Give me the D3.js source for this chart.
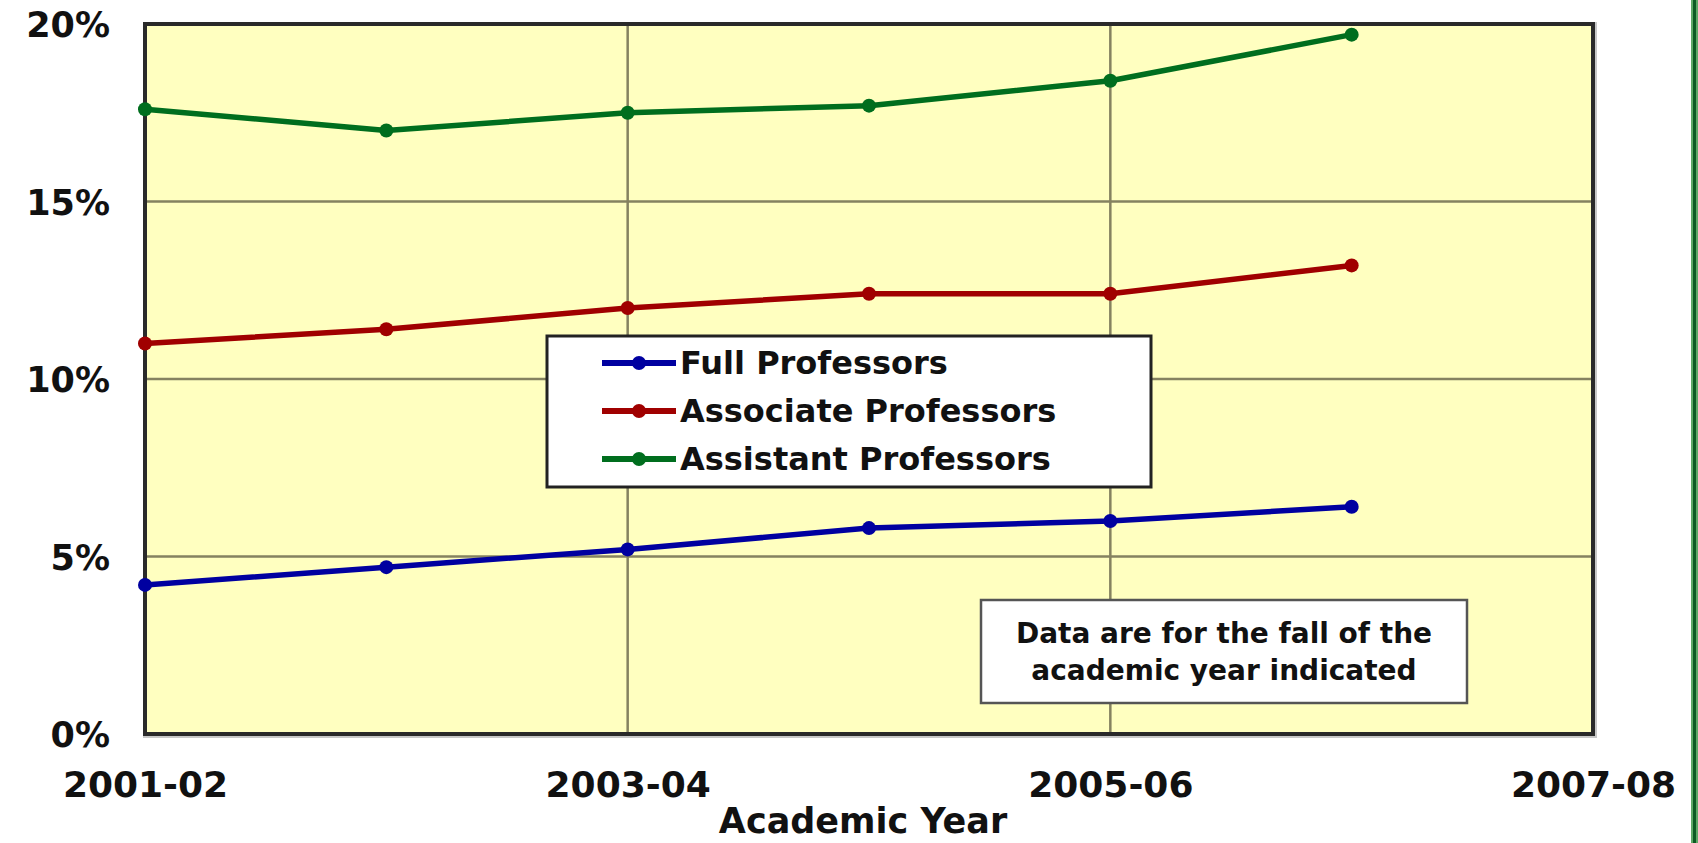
<!DOCTYPE html>
<html>
<head>
<meta charset="utf-8">
<script src="https://cdn.jsdelivr.net/npm/d3@7"></script>
<style>
  body { margin: 0; background: #fff; }
  text { font-family: "DejaVu Sans", Verdana, sans-serif; font-weight: bold; fill: #111; }
</style>
</head>
<body>
<div id="chart"></div>
<script>
// academic years on the x axis (ticks every other year)
var years = ["2001-02", "2002-03", "2003-04", "2004-05", "2005-06", "2006-07", "2007-08"];
var tickYears = ["2001-02", "2003-04", "2005-06", "2007-08"];
var yTicks = [0, 5, 10, 15, 20];

// percent values, fall of each year
var dataYears = ["2001-02", "2002-03", "2003-04", "2004-05", "2005-06", "2006-07"];
var fullProf = [4.2, 4.7, 5.2, 5.8, 6.0, 6.4];
var assocProf = [11.0, 11.4, 12.0, 12.4, 12.4, 13.2];
var asstProf = [17.6, 17.0, 17.5, 17.7, 18.4, 19.7];

var seriesNames = ["Full Professors", "Associate Professors", "Assistant Professors"];
var seriesColors = ["#0000a0", "#a00000", "#006e1e"];

var W = 1698, H = 843,
    margin = {top: 24, right: 105, bottom: 109, left: 145},
    width = W - margin.left - margin.right,
    height = H - margin.top - margin.bottom;

var svg = d3.select("#chart").append("svg")
    .attr("width", W)
    .attr("height", H);

// green slide edge on the right
svg.append("rect").attr("x", 1691).attr("y", 0).attr("width", 7).attr("height", H).attr("fill", "#5da866");
svg.append("rect").attr("x", 1693).attr("y", 0).attr("width", 3).attr("height", H).attr("fill", "#0c5a22");

var g = svg.append("g").attr("transform", "translate(" + margin.left + "," + margin.top + ")");

var x = d3.scalePoint().domain(years).range([0, width]),
    y = d3.scaleLinear().domain([0, 20]).range([height, 0]);

// plot background + shadow
g.append("rect")
    .attr("x", -2).attr("y", -2)
    .attr("width", width + 6).attr("height", height + 6)
    .attr("fill", "#c8c8c8");
g.append("rect")
    .attr("width", width).attr("height", height)
    .attr("fill", "#ffffc0");

// gridlines
g.selectAll(".hgrid").data(yTicks.slice(1, -1))
  .enter().append("line")
    .attr("x1", 0).attr("x2", width)
    .attr("y1", function(d) { return y(d); })
    .attr("y2", function(d) { return y(d); })
    .attr("stroke", "#858260").attr("stroke-width", 2.5);

g.selectAll(".vgrid").data(tickYears.slice(1, -1))
  .enter().append("line")
    .attr("y1", 0).attr("y2", height)
    .attr("x1", function(d) { return x(d); })
    .attr("x2", function(d) { return x(d); })
    .attr("stroke", "#858260").attr("stroke-width", 2.5);

g.append("rect")
    .attr("width", width).attr("height", height)
    .attr("fill", "none")
    .attr("stroke", "#2a2a2a").attr("stroke-width", 4);

// axes
var yAxis = d3.axisLeft(y).tickValues(yTicks).tickSize(0).tickPadding(35)
    .tickFormat(function(d) { return d + "%"; });
var yg = g.append("g").call(yAxis);
yg.select(".domain").remove();
yg.selectAll("text").style("font-size", "35px").attr("dy", "0.36em")
    .style("font-family", "DejaVu Sans").style("font-weight", "bold").attr("fill", "#111");

var xAxis = d3.axisBottom(x).tickValues(tickYears).tickSize(0).tickPadding(37);
var xg = g.append("g").attr("transform", "translate(0," + height + ")").call(xAxis);
xg.select(".domain").remove();
xg.selectAll("text").style("font-size", "36px")
    .style("font-family", "DejaVu Sans").style("font-weight", "bold").attr("fill", "#111");

svg.append("text")
    .attr("x", margin.left + width / 2 - 6)
    .attr("y", 833)
    .attr("text-anchor", "middle")
    .style("font-size", "35px")
    .text("Academic Year");

// lines
var allSeries = [fullProf, assocProf, asstProf];
var line = d3.line()
    .x(function(d, i) { return x(dataYears[i]); })
    .y(function(d) { return y(d); });

allSeries.forEach(function(vals, k) {
    g.append("path")
        .attr("d", line(vals))
        .attr("fill", "none")
        .attr("stroke", seriesColors[k])
        .attr("stroke-width", 5.5)
        .attr("stroke-linejoin", "round");
    g.selectAll(".dot" + k).data(vals)
      .enter().append("circle")
        .attr("cx", function(d, i) { return x(dataYears[i]); })
        .attr("cy", function(d) { return y(d); })
        .attr("r", 7)
        .attr("fill", seriesColors[k]);
});

// legend
var lg = svg.append("g").attr("transform", "translate(547,336)");
lg.append("rect")
    .attr("width", 604).attr("height", 151)
    .attr("fill", "#fff")
    .attr("stroke", "#222").attr("stroke-width", 3);
seriesNames.forEach(function(name, k) {
    var yy = 27 + k * 48;
    lg.append("line")
        .attr("x1", 55).attr("x2", 129)
        .attr("y1", yy).attr("y2", yy)
        .attr("stroke", seriesColors[k]).attr("stroke-width", 6);
    lg.append("circle").attr("cx", 92).attr("cy", yy).attr("r", 7).attr("fill", seriesColors[k]);
    lg.append("text")
        .attr("x", 133).attr("y", yy + 11)
        .style("font-size", "32px")
        .text(name);
});

// note box
var nb = svg.append("g").attr("transform", "translate(981,600)");
nb.append("rect")
    .attr("width", 486).attr("height", 103)
    .attr("fill", "#fff")
    .attr("stroke", "#555").attr("stroke-width", 2.5);
nb.append("text").attr("x", 243).attr("y", 43).attr("text-anchor", "middle")
    .style("font-size", "28px").text("Data are for the fall of the");
nb.append("text").attr("x", 243).attr("y", 80).attr("text-anchor", "middle")
    .style("font-size", "28px").text("academic year indicated");
</script>
</body>
</html>
